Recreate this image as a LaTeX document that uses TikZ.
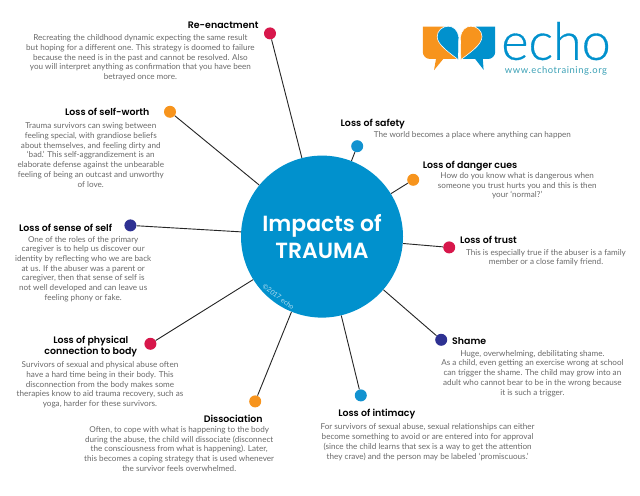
\documentclass[tikz,border=0pt]{standalone}
\usepackage{fontspec}
\setmainfont{Lato}
\newfontfamily\hubfont{Poppins SemiBold}
\newfontfamily\logofont[FakeBold=0.6]{Lato Light}
\newfontfamily\urlfont[LetterSpace=6]{Lato}
\definecolor{hubblue}{RGB}{1, 145, 205}
\definecolor{dotred}{RGB}{215, 23, 75}
\definecolor{dotorange}{RGB}{247, 148, 29}
\definecolor{dotnavy}{RGB}{46, 49, 146}
\definecolor{dotblue}{RGB}{18, 146, 208}
\definecolor{urlteal}{RGB}{58, 160, 181}
\definecolor{bodygray}{RGB}{105, 105, 105}
\usetikzlibrary{positioning}
\tikzset{
  dot/.style={circle, fill=#1, inner sep=0pt, minimum size=0.3cm},
  headnode/.style={inner sep=0pt, align=center, text=black, font=\hubfont\fontsize{6.7}{8.2}\selectfont},
  bodynode/.style={inner sep=0pt, align=center, text=bodygray, font=\fontsize{5.78}{6.9}\selectfont},
  spoke/.style={draw=black!85, line width=0.65pt}
}

\begin{document}
\begin{tikzpicture}
  \useasboundingbox (0, 0) rectangle (16, 12.375);

  % Centre circle
  \node[circle, fill=hubblue, inner sep=0pt, minimum size=4.05cm, text=white, align=center, font=\hubfont\fontsize{15.6}{19}\selectfont] (hub) at (8.05, 6.46) {Impacts of\\TRAUMA};
  \node[rotate=-36, text=white!70!hubblue, inner sep=0pt, font=\fontsize{4.8}{5}\selectfont] (copyrt) at (6.96, 4.96) {©2017 echo};

  % Dots
  \node[dot=dotred] (reenact) at (6.75, 11.54) {};
  \node[dot=dotorange] (worth) at (4.25, 9.58) {};
  \node[dot=dotnavy] (selfd) at (3.26, 6.74) {};
  \node[dot=dotred] (physical) at (3.76, 3.78) {};
  \node[dot=dotorange] (dissoc) at (6.38, 2.34) {};
  \node[dot=dotblue] (intimacy) at (9.02, 2.49) {};
  \node[dot=dotnavy] (shame) at (11.03, 3.88) {};
  \node[dot=dotred] (trust) at (11.23, 6.19) {};
  \node[dot=dotorange] (danger) at (10.33, 7.88) {};
  \node[dot=dotblue] (safety) at (8.93, 8.72) {};

  % Spokes
  \foreach \d in {reenact, worth, selfd, physical, dissoc, intimacy, shame, trust, danger, safety}
    \draw[spoke] (\d) -- (hub);

  % Re-enactment
  \node[headnode] (reenacthead) at (5.58, 11.75) {Re-enactment};
  \node[bodynode] (reenactbody) at (3.51, 10.93) {Recreating the childhood dynamic expecting the same result\\but hoping for a different one. This strategy is doomed to failure\\because the need is in the past and cannot be resolved. Also\\you will interpret anything as confirmation that you have been\\betrayed once more.};

  % Loss of self-worth
  \node[headnode] (worthhead) at (2.68, 9.58) {Loss of self-worth};
  \node[bodynode] (worthbody) at (2.27, 8.5) {Trauma survivors can swing between\\feeling special, with grandiose beliefs\\about themselves, and feeling dirty and\\‘bad.’ This self-aggrandizement is an\\elaborate defense against the unbearable\\feeling of being an outcast and unworthy\\of love.};

  % Loss of sense of self
  \node[headnode] (selfhead) at (1.64, 6.68) {Loss of sense of self};
  \node[bodynode] (selfbody) at (2.08, 5.65) {One of the roles of the primary\\caregiver is to help us discover our\\identity by reflecting who we are back\\at us. If the abuser was a parent or\\caregiver, then that sense of self is\\not well developed and can leave us\\feeling phony or fake.};

  % Loss of physical connection to body
  \node[headnode] (physicalhead) at (2.27, 3.71) {Loss of physical\\connection to body};
  \node[bodynode] (physicalbody) at (2.5, 2.75) {Survivors of sexual and physical abuse often\\have a hard time being in their body.  This\\disconnection from the body makes some\\therapies know to aid trauma recovery, such as\\yoga, harder for these survivors.};

  % Dissociation
  \node[headnode] (dissochead) at (5.83, 1.91) {Dissociation};
  \node[bodynode] (dissocbody) at (4.48, 1.15) {Often, to cope with what is happening to the body\\during the abuse, the child will dissociate (disconnect\\the consciousness from what is happening). Later,\\this becomes a coping strategy that is used whenever\\the survivor feels overwhelmed.};

  % Loss of intimacy
  \node[headnode] (intimacyhead) at (9.42, 2.03) {Loss of intimacy};
  \node[bodynode] (intimacybody) at (10.69, 1.32) {For survivors of sexual abuse, sexual relationships can either\\become something to avoid or are entered into for approval\\(since the child learns that sex is a way to get the attention\\they crave) and the person may be labeled ‘promiscuous.’};

  % Shame
  \node[headnode] (shamehead) at (11.73, 3.84) {Shame};
  \node[bodynode] (shamebody) at (13.31, 3.04) {Huge, overwhelming, debilitating shame.\\As a child, even getting an exercise wrong at school\\can trigger the shame. The child may grow into an\\adult who cannot bear to be in the wrong because\\it is such a trigger.};

  % Loss of trust
  \node[headnode] (trusthead) at (12.21, 6.38) {Loss of trust};
  \node[bodynode] (trustbody) at (13.65, 5.93) {This is especially true if the abuser is a family\\member or a close family friend.};

  % Loss of danger cues
  \node[headnode] (dangerhead) at (11.75, 8.23) {Loss of danger cues};
  \node[bodynode] (dangerbody) at (12.93, 7.73) {How do you know what is dangerous when\\someone you trust hurts you and this is then\\your ‘normal?’};

  % Loss of safety
  \node[headnode] (safetyhead) at (9.32, 9.28) {Loss of safety};
  \node[bodynode] (safetybody) at (11.81, 9.0) {The world becomes a place where anything can happen};

  % Logo: bubbles
  \fill[dotorange] (10.57, 11.71) -- (11.1, 11.71) -- (11.3, 11.3) -- (11.46, 10.9) -- (11.08, 10.9) -- (10.85, 10.62) -- (10.9, 10.9) -- (10.75, 10.9) .. controls (10.65, 10.9) and (10.57, 10.98) .. (10.57, 11.08) -- cycle;
  \fill[hubblue] (12.38, 11.71) -- (11.9, 11.71) -- (11.7, 11.3) -- (11.52, 10.9) -- (11.88, 10.9) -- (12.09, 10.63) -- (12.07, 10.9) -- (12.2, 10.9) .. controls (12.3, 10.9) and (12.38, 10.98) .. (12.38, 11.08) -- cycle;

  % Logo: heart
  \filldraw[fill=hubblue, draw=white, line width=0.4pt] (11.47, 11.45) .. controls (11.45, 11.62) and (11.33, 11.72) .. (11.21, 11.72) .. controls (11.05, 11.72) and (10.93, 11.6) .. (10.93, 11.46) .. controls (10.93, 11.25) and (11.25, 11.05) .. (11.46, 10.88) -- cycle;
  \filldraw[fill=dotorange, draw=white, line width=0.4pt] (11.51, 11.45) .. controls (11.53, 11.62) and (11.65, 11.72) .. (11.77, 11.72) .. controls (11.93, 11.72) and (12.05, 11.6) .. (12.05, 11.46) .. controls (12.05, 11.25) and (11.73, 11.05) .. (11.52, 10.88) -- cycle;

  % Logo: words
  \node[anchor=base, inner sep=0pt, text=hubblue, font=\logofont\fontsize{37}{37}\selectfont] (echoword) at (13.9, 10.88) {echo};
  \node[anchor=base, inner sep=0pt, text=urlteal, font=\urlfont\fontsize{6.7}{7}\selectfont] (echourl) at (13.9, 10.53) {www.echotraining.org};
\end{tikzpicture}
\end{document}
